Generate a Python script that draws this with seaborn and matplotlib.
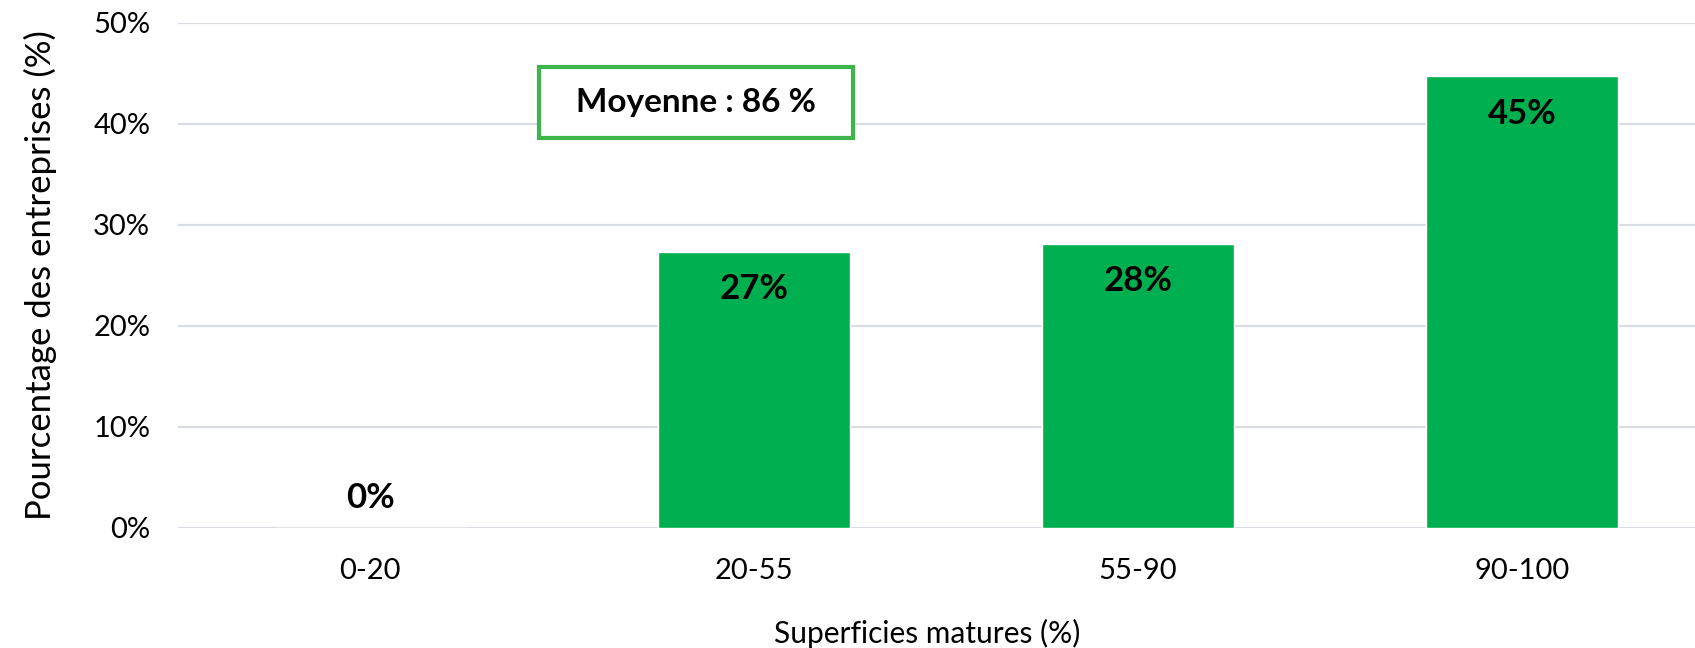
import matplotlib
matplotlib.use('Agg')
import matplotlib.pyplot as plt
from matplotlib.patches import Rectangle
import seaborn as sns
import pandas as pd

# ---- data ----
categories = ['0-20', '20-55', '55-90', '90-100']
values = [0.0, 27.3, 28.1, 44.7]
bar_labels = ['0%', '27%', '28%', '45%']
y_ticks = [0, 10, 20, 30, 40, 50]
y_tick_labels = ['0%', '10%', '20%', '30%', '40%', '50%']
mean_text = 'Moyenne : 86 %'
x_title = 'Superficies matures (%)'
y_title = 'Pourcentage des entreprises (%)'

BAR_COLOR = '#00B050'
BOX_COLOR = '#3DB54A'
GRID_COLOR = '#D9DDE3'

sns.set_theme(style='white')
plt.rcParams['font.family'] = ['Lato', 'DejaVu Sans']

W, H = 1695, 648
fig = plt.figure(figsize=(W / 100, H / 100), dpi=100)
left_px, right_px, top_px, bottom_px = 178, 1695, 22.7, 527.6
ax = fig.add_axes([left_px / W, (H - bottom_px) / H,
                   (right_px - left_px) / W, (bottom_px - top_px) / H])

df = pd.DataFrame({'cat': categories, 'val': values})
sns.barplot(data=df, x='cat', y='val', color=BAR_COLOR, width=0.5,
            saturation=1, ax=ax)

ax.set_xlim(-0.5, 3.45)
ax.set_ylim(0, 50)
ax.set_yticks(y_ticks)
ax.set_yticklabels(y_tick_labels)
ax.yaxis.grid(True, color=GRID_COLOR, lw=1.6)
ax.set_axisbelow(True)
for s in ax.spines.values():
    s.set_visible(False)
ax.tick_params(axis='both', length=0, labelsize=21, colors='#000000')
ax.tick_params(axis='y', pad=20)
ax.tick_params(axis='x', pad=22)

ax.set_xlabel(x_title, fontsize=21.5, labelpad=25, color='#000000')
ax.xaxis.label.set_x(0.494)
ax.set_ylabel(y_title, fontsize=25, labelpad=26, color='#000000')

for i, (v, lab) in enumerate(zip(values, bar_labels)):
    off = -27 if v > 0 else 21
    ax.annotate(lab, (i, v), xytext=(0, off), textcoords='offset points',
                ha='center', va='center', fontsize=25, fontweight='bold',
                color='#000000')

# Mean annotation box
bx0 = (539 - left_px) / (right_px - left_px)
bx1 = (853 - left_px) / (right_px - left_px)
by0 = (bottom_px - 138) / (bottom_px - top_px)
by1 = (bottom_px - 67) / (bottom_px - top_px)
ax.add_patch(Rectangle((bx0, by0), bx1 - bx0, by1 - by0, transform=ax.transAxes,
                       facecolor='white', edgecolor=BOX_COLOR, lw=3, zorder=5))
ax.text((bx0 + bx1) / 2, (by0 + by1) / 2, mean_text, transform=ax.transAxes,
        ha='center', va='center', fontsize=24, fontweight='bold',
        color='#000000', zorder=6)

fig.savefig('out.png', dpi=100)
